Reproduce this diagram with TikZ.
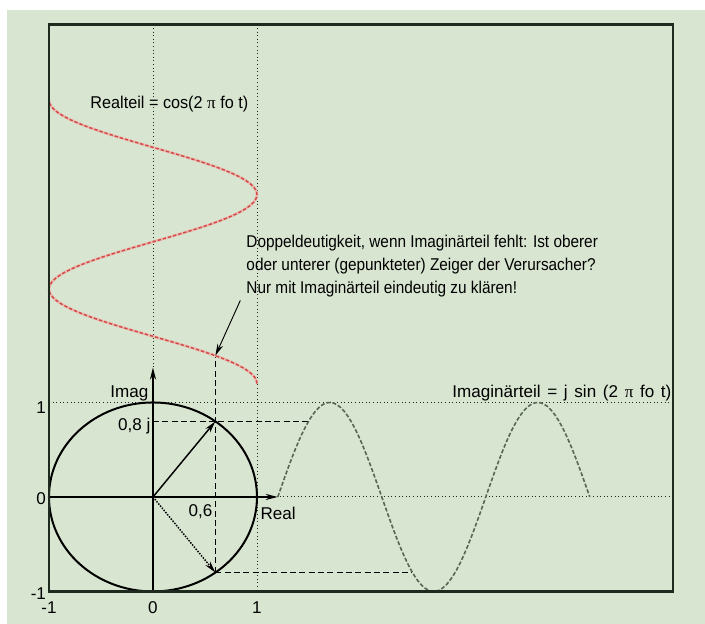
\documentclass[tikz,border=0pt]{standalone}
\usepackage{fontspec}
\setmainfont{Liberation Sans}
\newfontfamily\narrowfont{Liberation Sans}[FakeStretch=0.9]
\newfontfamily\semifont{Liberation Sans}[FakeStretch=0.95]
\newfontfamily\pifont{Liberation Serif}
\usetikzlibrary{arrows.meta}

\definecolor{paper}{HTML}{D8E5D1}
\definecolor{frameline}{HTML}{1F2A1F}
\definecolor{sinecol}{HTML}{566856}
\definecolor{cosred}{HTML}{D24A45}
\definecolor{cospink}{HTML}{E9BDB3}

\newcommand{\widespaces}{\spaceskip=5pt\relax}

\tikzset{
    txt/.style={font=\fontsize{12.8}{17.25}\selectfont, inner sep=0pt},
    narrowtxt/.style={font=\narrowfont\fontsize{12.8}{17.25}\selectfont, inner sep=0pt},
    semitxt/.style={font=\semifont\fontsize{12.8}{17.25}\selectfont, inner sep=0pt},
    griddots/.style={dotted, line width=0.7pt, frameline},
    proj/.style={dash pattern=on 4.5pt off 2.5pt, line width=0.9pt},
    vec/.style={-{Stealth[length=9pt,width=4.5pt]}, line width=1.1pt},
}

\begin{document}
\begin{tikzpicture}[>={Stealth[length=9pt,width=4.5pt]}, thick, x=78pt, y=70.875pt]
    % Background
    \useasboundingbox (-1.471,-1.344) rectangle (5.308,5.259);
    \fill[white] (-1.471,-1.344) rectangle (5.308,5.259);
    \fill[paper] (-1.404,-1.344) rectangle (5.308,5.153);

    % Grid lines
    \draw[griddots] (-1,1) -- (5,1);
    \draw[griddots] (1.22,0) -- (5,0);
    \draw[griddots] (0,5) -- (0,1.37);
    \draw[griddots] (1,5) -- (1,-1);

    % Points
    \coordinate (O) at (0,0);
    \coordinate (P) at (0.6,0.8);
    \coordinate (Q) at (0.6,-0.8);
    \coordinate (Pc) at (0.6,1.495);
    \coordinate (Ps) at (1.495,0.8);
    \coordinate (Qs) at (2.495,-0.8);
    \coordinate (hint) at (0.84,2.08);

    % Projections
    \draw[proj] (Q) -- (Pc);
    \draw[proj] (O |- P) -- (Ps);
    \draw[proj] (Q) -- (Qs);

    % Real part (cos), upwards
    \draw[cospink, line width=2pt, domain=1.2:4.2, samples=90] plot ({cos(180*(\x-1.2))}, \x);
    \draw[cosred, dash pattern=on 2.5pt off 1.5pt, line width=1.1pt, domain=1.2:4.2, samples=90] plot ({cos(180*(\x-1.2))}, \x);

    % Imaginary part (sin), to the right
    \draw[sinecol, dash pattern=on 3pt off 1.5pt, line width=1.2pt, domain=1.2:4.2, samples=90] plot (\x, {sin(180*(\x-1.2))});

    % Unit circle and axes
    \draw[line width=1.5pt] (O) circle (1);
    \draw[->, line width=1.4pt] (-1,0) -- (1.2,0);
    \draw[->, line width=1.4pt] (0,-1) -- (0,1.37);

    % Pointers
    \draw[vec] (O) -- (P);
    \draw[vec, densely dotted] (O) -- (Q);
    \draw[->, line width=0.7pt] (hint) -- (Pc);

    % Frame
    \draw[frameline, line width=1.7pt] (-1,-1) rectangle (5,5);

    % Labels
    \node[semitxt, anchor=west] (realteil) at (-0.606,4.16) {Realteil = cos(2 {\pifont π} fo t)};
    \node[narrowtxt, anchor=north west, align=left] (hinweis) at (0.894,2.78)
        {Doppeldeutigkeit, wenn Imaginärteil fehlt: Ist oberer\\
         oder unterer (gepunkteter) Zeiger der Verursacher?\\
         Nur mit Imaginärteil eindeutig zu klären!};
    \node[txt, anchor=base east] (imagteil) at (4.99,1.048) {\widespaces Imaginärteil = j sin (2 {\pifont π} fo t)};
    \node[txt, anchor=base east] (imag) at (-0.04,1.055) {Imag};
    \node[txt, anchor=base east] (achtj) at (-0.02,0.70) {0,8 j};
    \node[txt, anchor=base east] (nullsechs) at (0.577,-0.21) {0,6};
    \node[txt, anchor=base west] (real) at (1.03,-0.243) {Real};

    % Tick labels
    \foreach \v/\yy in {1/0.885, 0/-0.085, -1/-1.09}
        \node[txt, anchor=base east] (ylab\v) at (-1.024,\yy) {\v};
    \foreach \v in {-1,0,1}
        \node[txt, anchor=base] (xlab\v) at (\v,-1.23) {\v};
\end{tikzpicture}
\end{document}
